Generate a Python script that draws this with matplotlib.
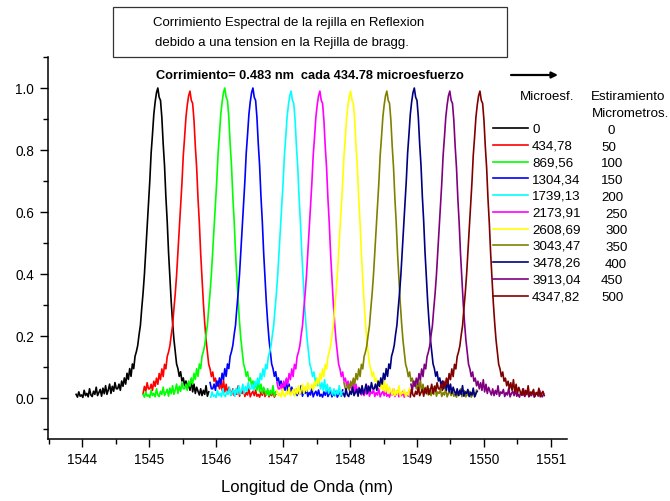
import numpy as np
import matplotlib.pyplot as plt
from matplotlib.patches import Rectangle

plt.rcParams['font.family'] = ['Liberation Sans', 'DejaVu Sans']

# Microdeformacion aplicada y estiramiento correspondiente
microesf = ['0', '434,78', '869,56', '1304,34', '1739,13', '2173,91',
            '2608,69', '3043,47', '3478,26', '3913,04', '4347,82']
estiramiento = ['0', '50', '100', '150', '200', '250',
                '300', '350', '400', '450', '500']
colores = ['#000000', '#FF0000', '#00FF00', '#0000FF', '#00FFFF', '#FF00FF',
           '#FFFF00', '#808000', '#000080', '#800080', '#800000']

# Longitud de onda de Bragg (nm) de cada espectro
centros = [1545.13, 1545.61, 1546.13, 1546.55, 1547.12, 1547.55,
           1548.01, 1548.55, 1548.96, 1549.49, 1549.94]
alturas = [1.00, 0.99, 1.00, 1.00, 0.99, 0.99, 0.99, 0.99, 1.00, 0.99, 0.99]
# inicio de la ventana de 2 nm medida por el analizador
inicio = [1543.9, 1544.9, 1544.9, 1545.9, 1545.9, 1546.9,
          1546.9, 1547.9, 1547.9, 1548.9, 1548.9]
ancho_ventana = 2.0

# Perfil de reflexion medido, paso 0.02 nm, de -1.24 a +1.44 nm del pico
perfil = np.array([
    0.004, 0.012, 0.003, 0.020, 0.006, 0.010, 0.002, 0.025, 0.008, 0.015,
    0.004, 0.030, 0.010, 0.005, 0.022, 0.012, 0.035, 0.008, 0.018, 0.028,
    0.006, 0.032, 0.014, 0.040, 0.012, 0.026, 0.045, 0.015, 0.038, 0.022,
    0.050, 0.030,
    0.030, 0.045, 0.025, 0.055, 0.038, 0.065, 0.045, 0.080, 0.060,
    0.095, 0.070, 0.110, 0.095, 0.135, 0.150, 0.170, 0.205, 0.235, 0.290,
    0.340, 0.400, 0.475, 0.550, 0.625, 0.700, 0.790, 0.850, 0.915, 0.955,
    0.985,
    1.000,
    0.970, 0.960, 0.905, 0.820, 0.750, 0.650, 0.570, 0.470, 0.390, 0.310,
    0.245, 0.190, 0.150, 0.110, 0.095, 0.070, 0.085, 0.055, 0.065, 0.040,
    0.055, 0.030, 0.050, 0.025, 0.060, 0.020, 0.045, 0.015, 0.035, 0.022,
    0.010, 0.030, 0.008, 0.025, 0.012, 0.040, 0.006, 0.020, 0.015, 0.028,
    0.005, 0.018, 0.010, 0.032, 0.004, 0.015, 0.022, 0.008, 0.026, 0.006,
    0.012, 0.003, 0.020, 0.009, 0.030, 0.005, 0.014, 0.024, 0.004, 0.016,
    0.008, 0.022, 0.003, 0.012, 0.018, 0.006, 0.026, 0.010, 0.004, 0.015,
    0.007, 0.012,
])
desplaz = np.round(np.arange(len(perfil)) * 0.02 - 1.24, 2)

W, H = 670, 501


def px(x, y):
    # pixeles de la imagen -> fraccion de figura
    return x / W, 1 - y / H


fig = plt.figure(figsize=(W / 100, H / 100), dpi=100)
ax = fig.add_axes([48 / W, 62 / H, 519 / W, 382 / H])

lineas = []
for c, h, s, col, lab in zip(centros, alturas, inicio, colores, microesf):
    x = c + desplaz
    m = (x >= s) & (x <= s + ancho_ventana)
    ln, = ax.plot(x[m], h * perfil[m], color=col, lw=1.2, label=lab)
    lineas.append(ln)

ax.set_xlim(1543.49, 1551.24)
ax.set_ylim(-0.132, 1.10)
ax.set_xticks(np.arange(1544, 1552, 1))
ax.set_xticks(np.arange(1543.5, 1551.5, 0.5), minor=True)
ax.set_yticks(np.arange(0, 1.01, 0.2))
ax.set_yticks(np.arange(-0.1, 1.11, 0.1), minor=True)
ax.set_yticklabels(['0.0', '0.2', '0.4', '0.6', '0.8', '1.0'])
for s in ['top', 'right']:
    ax.spines[s].set_visible(False)
for s in ['left', 'bottom']:
    ax.spines[s].set_linewidth(1.1)
ax.tick_params(which='major', direction='out', length=6, width=1.0,
               labelsize=9.8, pad=4)
ax.tick_params(which='minor', direction='out', length=3.5, width=1.0)
ax.set_xlabel('Longitud de Onda (nm)', fontsize=12)
ax.xaxis.set_label_coords((307 - 48) / 519, -0.108)

# leyenda
leg = ax.legend(handles=lineas, loc='upper left',
                bbox_to_anchor=px(493, 123.5), bbox_transform=fig.transFigure,
                frameon=False, fontsize=9.6, handlelength=2.63,
                handletextpad=0.3, labelspacing=0.33, borderpad=0,
                borderaxespad=0)

fig.text(*px(520, 97), 'Microesf.', fontsize=9.6, va='center')
fig.text(*px(591, 97), 'Estiramiento', fontsize=9.6, va='center')
fig.text(*px(592, 114), 'Micrometros.', fontsize=9.6, va='center')
col_x = [608, 601, 601, 601, 601, 605, 605, 605, 605, 601, 601]
for i, (e, xx) in enumerate(zip(estiramiento, col_x)):
    fig.text(*px(xx, 131 + i * 16.7), e, fontsize=9.6, va='center')

# recuadro del titulo
fig.add_artist(Rectangle(px(113, 57), (507 - 113) / W, (57 - 7) / H,
                         transform=fig.transFigure, fill=False,
                         edgecolor='#333333', lw=0.9))
fig.text(*px(153, 23), 'Corrimiento Espectral de la rejilla en Reflexion',
         fontsize=9.5, va='center')
fig.text(*px(155, 43), 'debido a una tension en la Rejilla de bragg.',
         fontsize=9.5, va='center')

fig.text(*px(310, 76), 'Corrimiento= 0.483 nm  cada 434.78 microesfuerzo',
         fontsize=9.2, fontweight='bold', ha='center', va='center')
ax.annotate('', xy=px(558, 75), xytext=px(511, 75),
            xycoords='figure fraction', textcoords='figure fraction',
            arrowprops=dict(arrowstyle='-|>', color='black', lw=1.6,
                            mutation_scale=9, shrinkA=0, shrinkB=0))

fig.savefig('out.png', dpi=100)
